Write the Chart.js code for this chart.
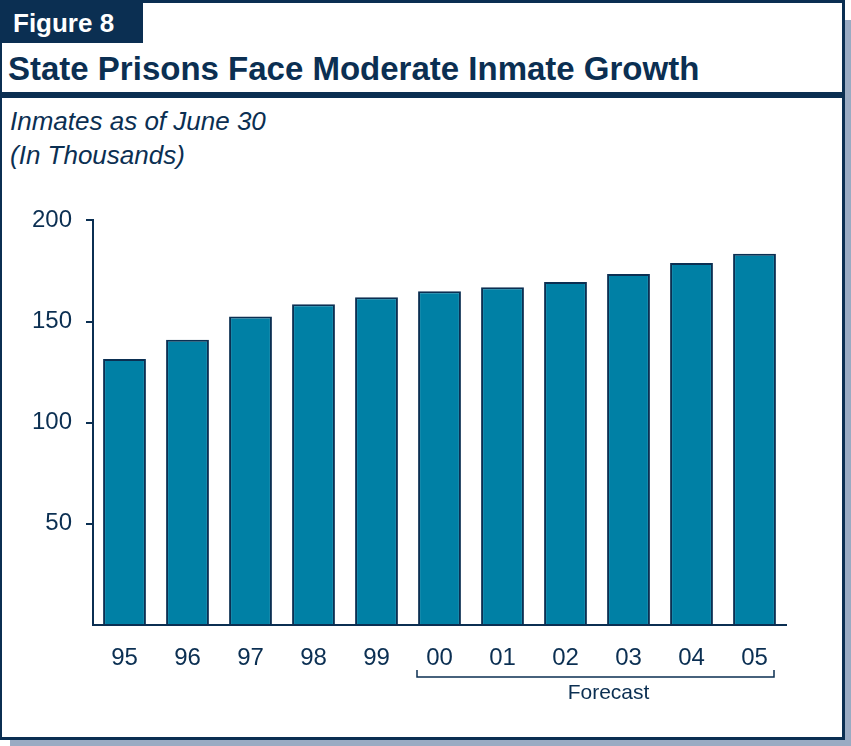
<!DOCTYPE html>
<html>
<head>
<meta charset="utf-8">
<script src="https://cdn.jsdelivr.net/npm/chart.js@4/dist/chart.umd.min.js"></script>
<style>
  body { margin: 0; background: #fff; width: 851px; height: 746px; position: relative; overflow: hidden; font-family: "Liberation Sans", Arial, sans-serif; }
  .shadow { position: absolute; left: 10px; top: 20px; width: 841px; height: 726px; background: #9aabc3; }
  .frame { position: absolute; left: 0; top: 0; width: 840px; height: 734px; background: #fff; border: 3px solid #0b2f52; border-left-width: 2px; }
  .fig { position: absolute; left: 0; top: 3px; width: 143px; height: 40px; background: #0b2f52; color: #fff; font-weight: bold; font-size: 26px; line-height: 40px; padding-left: 13px; box-sizing: border-box; }
  .title { position: absolute; left: 8px; top: 51px; color: #0b2f52; font-weight: bold; font-size: 33px; line-height: 36px; }
  .rule { position: absolute; left: 0; top: 92px; width: 845px; height: 6px; background: #0b2f52; }
  .sub { position: absolute; left: 10px; top: 104px; color: #0b2f52; font-style: italic; font-size: 26px; line-height: 34px; }
  #wrap { position: absolute; left: 0; top: 192px; width: 851px; height: 540px; }
</style>
</head>
<body>
<div class="shadow"></div>
<div class="frame"></div>
<div class="fig">Figure 8</div>
<div class="title">State Prisons Face Moderate Inmate Growth</div>
<div class="rule"></div>
<div class="sub">Inmates as of June 30<br>(In Thousands)</div>
<div id="wrap"><canvas id="chart" width="851" height="540"></canvas></div>
<script>
const years = ['95', '96', '97', '98', '99', '00', '01', '02', '03', '04', '05'];
const inmates = [131.5, 141, 152.5, 158.5, 162, 165, 167, 169.5, 173.5, 179, 183.5];
const forecastFrom = '00';
const forecastTo = '05';
const forecastLabel = 'Forecast';

const navy = '#0b2f52';

// Klammer unter den Prognosejahren
const bracketPlugin = {
  id: 'bracket',
  afterDraw(chart) {
    const ctx = chart.ctx;
    const x = chart.scales.x;
    const half = x.width / years.length / 2;
    const x1 = x.getPixelForValue(years.indexOf(forecastFrom)) - half + 9;
    const x2 = x.getPixelForValue(years.indexOf(forecastTo)) + half - 12;
    const y = chart.chartArea.bottom + 52;
    ctx.save();
    ctx.strokeStyle = navy;
    ctx.lineWidth = 1.5;
    ctx.beginPath();
    ctx.moveTo(x1, y - 7);
    ctx.lineTo(x1, y);
    ctx.lineTo(x2, y);
    ctx.lineTo(x2, y - 7);
    ctx.stroke();
    ctx.fillStyle = navy;
    ctx.font = '21px "Liberation Sans", Arial, sans-serif';
    ctx.textAlign = 'center';
    ctx.textBaseline = 'middle';
    ctx.fillText(forecastLabel, (x1 + x2) / 2 + 13, y + 16);
    ctx.restore();
  }
};

new Chart(document.getElementById('chart'), {
  type: 'bar',
  data: {
    labels: years,
    datasets: [{
      data: inmates,
      backgroundColor: '#0080a5',
      borderColor: navy,
      borderWidth: 2,
      borderSkipped: 'bottom',
      categoryPercentage: 1,
      barPercentage: 0.68
    }]
  },
  options: {
    responsive: false,
    animation: false,
    layout: { padding: { top: 21, right: 65, bottom: 50, left: 0 } },
    plugins: { legend: { display: false }, tooltip: { enabled: false } },
    scales: {
      x: {
        grid: { display: false },
        border: { display: true, color: navy, width: 2 },
        ticks: { color: navy, padding: 11, font: { size: 24, family: '"Liberation Sans", Arial, sans-serif' } },
        afterFit(s) { s.height = 57; }
      },
      y: {
        min: 0, max: 200,
        grid: {
          drawOnChartArea: false, drawTicks: true, tickLength: 7, lineWidth: 2,
          color: c => c.tick && c.tick.value === 0 ? 'rgba(0,0,0,0)' : navy
        },
        border: { display: true, color: navy, width: 2 },
        ticks: {
          stepSize: 50, color: navy, padding: 14,
          font: { size: 24, family: '"Liberation Sans", Arial, sans-serif' },
          callback: v => v === 0 ? '' : v
        },
        afterFit(s) { s.width = 93; }
      }
    }
  },
  plugins: [bracketPlugin]
});
</script>
</body>
</html>
